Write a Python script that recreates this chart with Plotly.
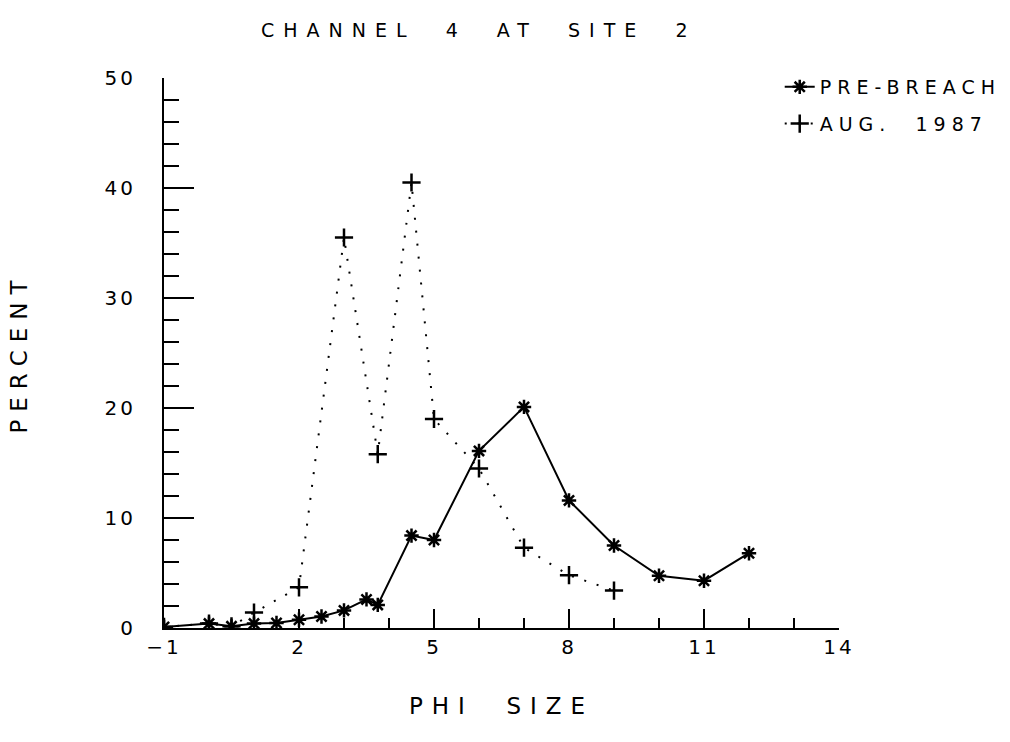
import plotly.graph_objects as go

# Data
pre_phi = [-1, 0, 0.5, 1, 1.5, 2, 2.5, 3, 3.5, 3.75, 4.5, 5, 6, 7, 8, 9, 10, 11, 12]
pre_pct = [0.1, 0.4, 0.15, 0.4, 0.45, 0.75, 1.05, 1.6, 2.6, 2.1, 8.4, 8.0, 16.1, 20.1, 11.6, 7.5, 4.75, 4.3, 6.8]

aug_phi = [-1, 0, 0.5, 1, 2, 3, 3.75, 4.5, 5, 6, 7, 8, 9]
aug_pct = [0.1, 0.4, 0.15, 1.4, 3.7, 35.5, 15.8, 40.5, 19.0, 14.5, 7.3, 4.8, 3.4]

x_ticks = [-1, 2, 5, 8, 11, 14]
y_ticks = [0, 10, 20, 30, 40, 50]

FONT = "DejaVu Sans"


def spaced(t, sp=4):
    return f'<span style="letter-spacing:{sp}px">{t}</span>'


fig = go.Figure()
fig.add_trace(go.Scatter(
    x=pre_phi, y=pre_pct, mode="lines+markers", name=spaced("PRE-BREACH", 6),
    legendgroup="a",
    line=dict(color="black", width=2),
    marker=dict(symbol="asterisk-open", size=12, color="black",
                line=dict(color="black", width=2.5)),
))
fig.add_trace(go.Scatter(
    x=aug_phi, y=aug_pct, mode="lines+markers", name=spaced("AUG.  1987", 6),
    legendgroup="b",
    line=dict(color="black", width=2, dash="2px,11px"),
    marker=dict(symbol="cross-thin-open", size=13, color="black",
                line=dict(color="black", width=2.5)),
))

fig.update_layout(
    width=1010, height=742,
    paper_bgcolor="white", plot_bgcolor="white",
    margin=dict(l=164, r=171, t=78, b=114, autoexpand=False),
    font=dict(family=FONT, size=19, color="black"),
    title=dict(text=spaced("CHANNEL  4  AT  SITE  2", 9), x=0.474, xanchor="center",
               y=1 - 30 / 742, yanchor="middle", font=dict(size=19)),
    legend=dict(xref="container", yref="container", x=0.772, y=1 - 68 / 742,
                xanchor="left", yanchor="top",
                bgcolor="rgba(0,0,0,0)", font=dict(size=19),
                itemwidth=30, traceorder="grouped", tracegroupgap=9),
    xaxis=dict(
        range=[-1, 14], tickmode="array", tickvals=x_ticks,
        ticktext=[spaced(str(v).replace("-", "\u2212"), 3) for v in x_ticks],
        ticks="inside", ticklen=19, tickwidth=2, tickcolor="black",
        showline=True, linecolor="black", linewidth=2,
        showgrid=False, zeroline=False,
        minor=dict(dtick=1, tick0=-1, ticks="inside", ticklen=10,
                   tickwidth=2, tickcolor="black", showgrid=False),
        title=dict(text=spaced("PHI  SIZE", 9), standoff=40),
        tickfont=dict(size=20),
    ),
    yaxis=dict(
        range=[0, 50], tickmode="array", tickvals=y_ticks,
        ticktext=[spaced(str(v), 3) for v in y_ticks],
        ticks="inside", ticklen=30, tickwidth=2, tickcolor="black",
        showline=True, linecolor="black", linewidth=2,
        showgrid=False, zeroline=False,
        minor=dict(dtick=2, tick0=0, ticks="inside", ticklen=15,
                   tickwidth=2, tickcolor="black", showgrid=False),
        title=dict(text=spaced("PERCENT", 8), standoff=70),
        ticklabelstandoff=22,
        tickfont=dict(size=20),
    ),
)

fig.write_html("out.html")
